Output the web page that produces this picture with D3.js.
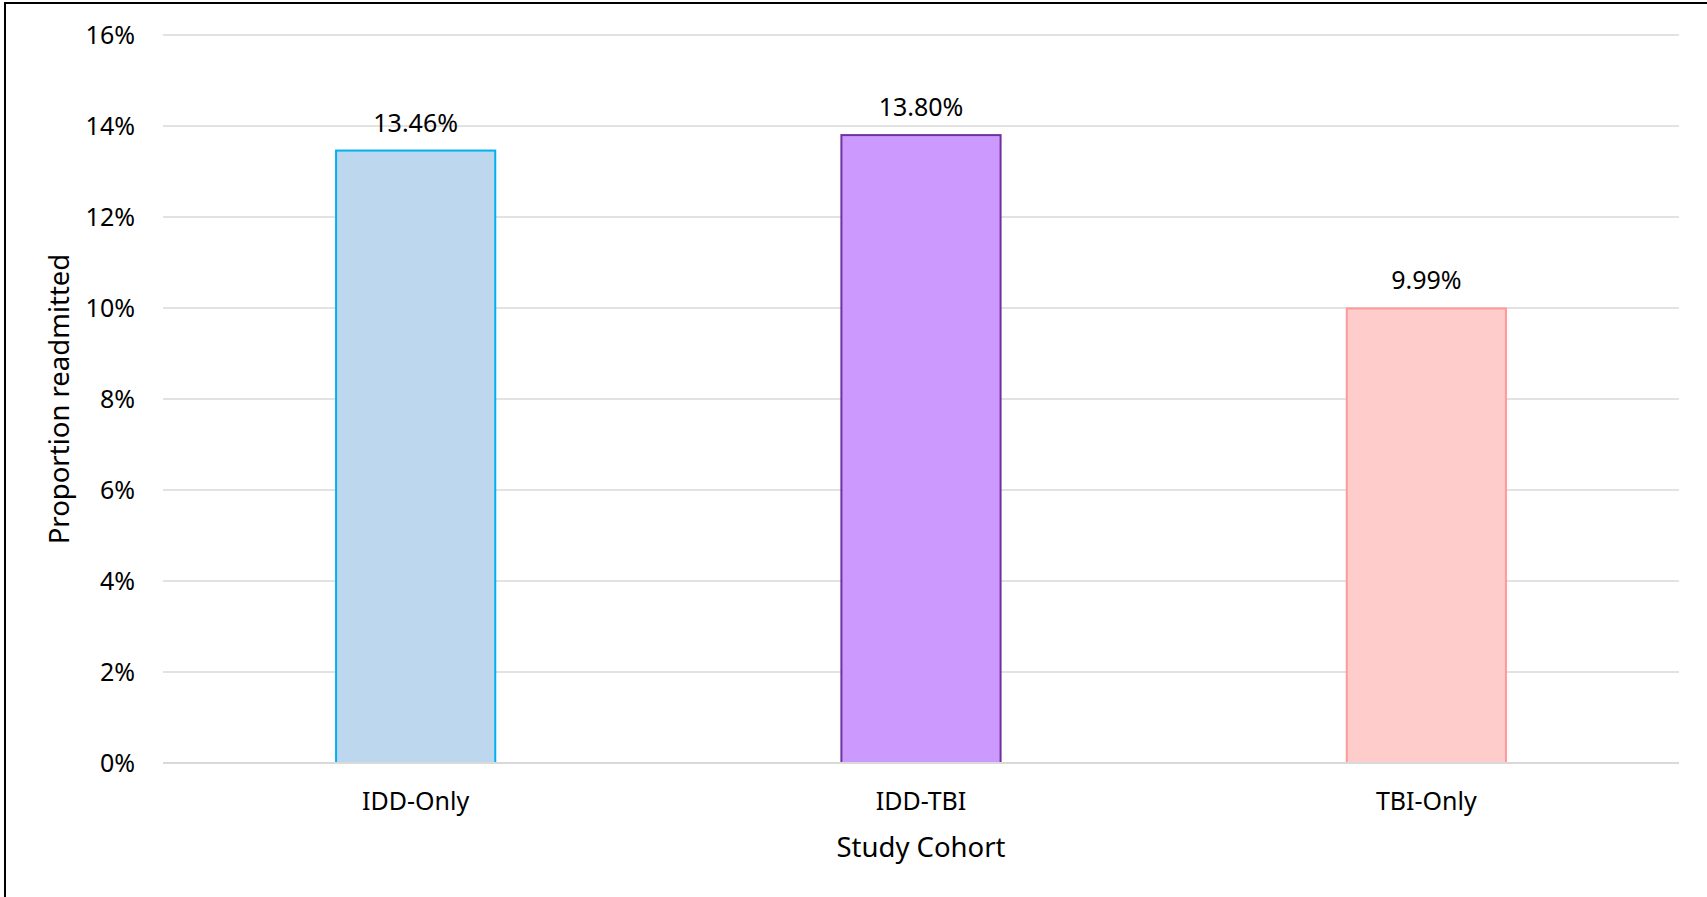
<!DOCTYPE html>
<html>
<head>
<meta charset="utf-8">
<script src="https://cdn.jsdelivr.net/npm/d3@7"></script>
<style>
  body { margin: 0; background: #fff; }
  svg text { font-family: "Noto Sans", "Open Sans", sans-serif; fill: #000; }
</style>
</head>
<body>
<div id="chart"></div>
<script>
//Chart size and plot area
const width = 1707;
const height = 897;
const margin = { top: 35, right: 28, bottom: 134, left: 163 };

//Data
const cohorts = ["IDD-Only", "IDD-TBI", "TBI-Only"];
const readmitted = [13.46, 13.80, 9.99];
const yTicks = [0, 2, 4, 6, 8, 10, 12, 14, 16];
const fills = ["#BDD7EE", "#CC99FF", "#FFCCCC"];
const strokes = ["#00B0F0", "#7030A0", "#FF9999"];

const data = cohorts.map((c, i) => ({ cohort: c, value: readmitted[i], fill: fills[i], stroke: strokes[i] }));

//Create the svg element
const svg = d3.select("#chart").append("svg").attr("width", width).attr("height", height);

//Outer frame (only top and left edges show)
svg.append("line").attr("x1", 4).attr("x2", width).attr("y1", 3).attr("y2", 3).attr("stroke", "#000").attr("stroke-width", 2);
svg.append("line").attr("x1", 5).attr("x2", 5).attr("y1", 3).attr("y2", height).attr("stroke", "#000").attr("stroke-width", 2);

//Scales
const x = d3.scaleBand()
    .domain(cohorts)
    .range([margin.left, width - margin.right])
    .paddingInner(0.685)
    .paddingOuter(0.3425);

const y = d3.scaleLinear()
    .domain([0, 16])
    .range([height - margin.bottom, margin.top]);

//Gridlines
svg.append("g")
    .selectAll("line")
    .data(yTicks)
    .enter().append("line")
    .attr("x1", margin.left)
    .attr("x2", width - margin.right)
    .attr("y1", d => y(d))
    .attr("y2", d => y(d))
    .attr("stroke", "#D9D9D9")
    .attr("stroke-width", 1.5);

//Y axis
const yAxis = d3.axisLeft(y).tickValues(yTicks).tickFormat(d => d + "%").tickSize(0).tickPadding(28);
svg.append("g")
    .attr("transform", `translate(${margin.left}, 0)`)
    .call(yAxis)
    .call(g => g.select(".domain").remove())
    .selectAll("text")
    .style("font-size", "25px")
    .style("font-family", "'Noto Sans', sans-serif")
    .attr("fill", "#000");

//Bars
svg.append("g")
    .selectAll("rect")
    .data(data)
    .enter().append("rect")
    .attr("x", d => x(d.cohort))
    .attr("y", d => y(d.value))
    .attr("width", x.bandwidth())
    .attr("height", d => y(0) - y(d.value))
    .attr("fill", d => d.fill)
    .attr("stroke", d => d.stroke)
    .attr("stroke-width", 2);

//Baseline over bars
svg.append("line")
    .attr("x1", margin.left).attr("x2", width - margin.right)
    .attr("y1", y(0)).attr("y2", y(0))
    .attr("stroke", "#D9D9D9").attr("stroke-width", 2);

//Data labels
svg.append("g")
    .selectAll("text")
    .data(data)
    .enter().append("text")
    .attr("x", d => x(d.cohort) + x.bandwidth() / 2)
    .attr("y", d => y(d.value) - 19)
    .attr("text-anchor", "middle")
    .style("font-size", "25px")
    .text(d => d.value.toFixed(2) + "%");

//X axis
const xAxis = d3.axisBottom(x).tickSize(0).tickPadding(29);
svg.append("g")
    .attr("transform", `translate(0, ${y(0)})`)
    .call(xAxis)
    .call(g => g.select(".domain").remove())
    .selectAll("text")
    .style("font-size", "25px")
    .style("font-family", "'Noto Sans', sans-serif")
    .attr("fill", "#000");

//Axis titles
svg.append("text")
    .attr("x", (margin.left + width - margin.right) / 2)
    .attr("y", 857)
    .attr("text-anchor", "middle")
    .style("font-size", "27.5px")
    .text("Study Cohort");

svg.append("text")
    .attr("transform", `translate(69, ${399}) rotate(-90)`)
    .attr("text-anchor", "middle")
    .style("font-size", "27.5px")
    .text("Proportion readmitted");
</script>
</body>
</html>
